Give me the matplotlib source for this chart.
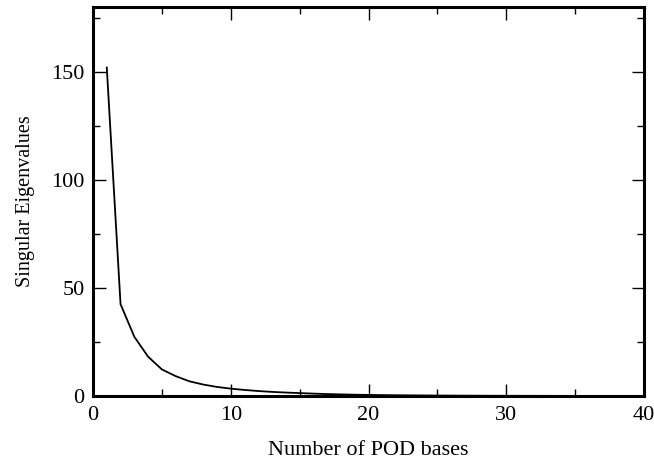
import matplotlib
matplotlib.use("Agg")
import matplotlib.pyplot as plt
from matplotlib.ticker import MultipleLocator

plt.rcParams['font.family'] = ['Liberation Serif', 'DejaVu Serif']
plt.rcParams['mathtext.fontset'] = 'stix'

n_bases = list(range(1, 41))
eigenvalues = [152.0, 42.5, 27.4, 18.2, 12.3, 9.2, 6.8, 5.3, 4.2, 3.4,
               2.8, 2.3, 1.9, 1.6, 1.35, 1.1, 0.9, 0.75, 0.6, 0.5,
               0.42, 0.35, 0.3, 0.25, 0.21, 0.18, 0.15, 0.13, 0.11, 0.09,
               0.08, 0.07, 0.06, 0.05, 0.04, 0.035, 0.03, 0.025, 0.02, 0.015]

fig = plt.figure(figsize=(6.54, 4.62), dpi=100)
ax = fig.add_axes([93/654, 1-396/462, (644-93)/654, (396-7)/462])
ax.plot(n_bases, eigenvalues, color='black', lw=1.3)
ax.set_xlim(0, 40)
ax.set_ylim(0, 180)
ax.xaxis.set_major_locator(MultipleLocator(10))
ax.xaxis.set_minor_locator(MultipleLocator(5))
ax.yaxis.set_major_locator(MultipleLocator(50))
ax.yaxis.set_minor_locator(MultipleLocator(25))
ax.tick_params(which='both', direction='in', top=True, right=True, labelsize=16, width=1)
ax.tick_params(which='major', length=9)
ax.tick_params(which='minor', length=5)
ax.tick_params(axis='x', pad=7)
ax.tick_params(axis='y', pad=6)
for s in ax.spines.values():
    s.set_linewidth(2.2)
ax.set_xlabel('Number of POD bases', fontsize=16, labelpad=12)
ax.set_ylabel('Singular Eigenvalues', fontsize=14.5, labelpad=12)
fig.savefig('out.png', dpi=100)
